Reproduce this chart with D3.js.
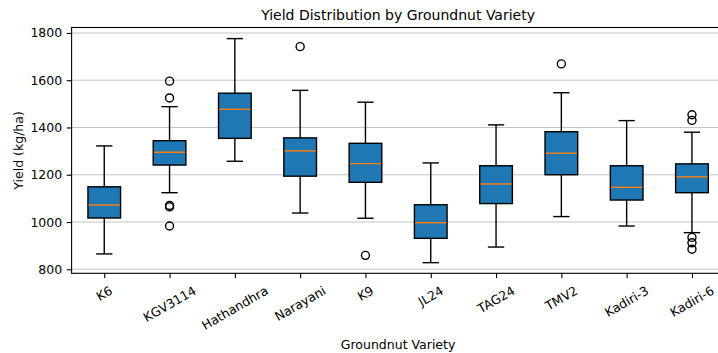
<!DOCTYPE html>
<html>
<head>
<meta charset="utf-8">
<script src="https://cdn.jsdelivr.net/npm/d3@7"></script>
<style>
  body { margin: 0; background: #fff; }
  text { font-family: "DejaVu Sans", sans-serif; fill: #000; }
</style>
</head>
<body>
<div id="chart"></div>
<script>
// groundnut yield per variety, box stats
const varieties = ['K6', 'KGV3114', 'Hathandhra', 'Narayani', 'K9', 'JL24', 'TAG24', 'TMV2', 'Kadiri-3', 'Kadiri-6'];
const whiskerLow  = [865, 1124, 1257, 1038, 1016, 828, 894, 1023, 983, 955];
const q1          = [1017, 1241, 1354, 1194, 1168, 931, 1078, 1200, 1093, 1124];
const medians     = [1072, 1295, 1477, 1301, 1247, 997, 1161, 1291, 1147, 1191];
const q3          = [1149, 1344, 1545, 1356, 1333, 1073, 1238, 1382, 1238, 1246];
const whiskerHigh = [1322, 1488, 1776, 1557, 1507, 1250, 1411, 1547, 1429, 1380];
const outliers = [
  [],
  [1596, 1525, 1070, 1064, 983],
  [],
  [1742],
  [859],
  [],
  [],
  [1669],
  [],
  [1454, 1430, 935, 912, 885]
];
const yTicks = [800, 1000, 1200, 1400, 1600, 1800];

const width = 718, height = 353;
const box = { left: 71.6, right: 724.6, top: 27.5, bottom: 273.3 };

const svg = d3.select('#chart').append('svg')
  .attr('width', width).attr('height', height);

svg.append('rect').attr('width', width).attr('height', height).attr('fill', '#fff');

const x = d3.scaleLinear().domain([0.5, varieties.length + 0.5]).range([box.left, box.right]);
const y = d3.scaleLinear().domain([783, 1823]).range([box.bottom, box.top]);
const boxW = (x(1) - x(0)) * 0.5;

// grid
svg.append('g').selectAll('line').data(yTicks).join('line')
  .attr('x1', box.left).attr('x2', box.right)
  .attr('y1', d => y(d)).attr('y2', d => y(d))
  .attr('stroke', '#b0b0b0').attr('stroke-opacity', 0.75).attr('stroke-width', 1.1);

const stats = varieties.map((name, i) => ({
  name, pos: i + 1,
  lo: whiskerLow[i], q1: q1[i], med: medians[i], q3: q3[i], hi: whiskerHigh[i],
  out: outliers[i]
}));

const g = svg.append('g').selectAll('g').data(stats).join('g');

// whiskers
g.append('line')
  .attr('x1', d => x(d.pos)).attr('x2', d => x(d.pos))
  .attr('y1', d => y(d.lo)).attr('y2', d => y(d.q1))
  .attr('stroke', '#000').attr('stroke-width', 1.4);
g.append('line')
  .attr('x1', d => x(d.pos)).attr('x2', d => x(d.pos))
  .attr('y1', d => y(d.q3)).attr('y2', d => y(d.hi))
  .attr('stroke', '#000').attr('stroke-width', 1.4);

// caps
['lo', 'hi'].forEach(k => {
  g.append('line')
    .attr('x1', d => x(d.pos) - boxW / 4).attr('x2', d => x(d.pos) + boxW / 4)
    .attr('y1', d => y(d[k])).attr('y2', d => y(d[k]))
    .attr('stroke', '#000').attr('stroke-width', 1.4);
});

// boxes
g.append('rect')
  .attr('x', d => x(d.pos) - boxW / 2).attr('width', boxW)
  .attr('y', d => y(d.q3)).attr('height', d => y(d.q1) - y(d.q3))
  .attr('fill', '#1f77b4').attr('stroke', '#000').attr('stroke-width', 1.4);

// medians
g.append('line')
  .attr('x1', d => x(d.pos) - boxW / 2 + 0.7).attr('x2', d => x(d.pos) + boxW / 2 - 0.7)
  .attr('y1', d => y(d.med)).attr('y2', d => y(d.med))
  .attr('stroke', '#ff7f0e').attr('stroke-width', 1.4);

// fliers
g.selectAll('circle').data(d => d.out.map(v => ({ pos: d.pos, v }))).join('circle')
  .attr('cx', d => x(d.pos)).attr('cy', d => y(d.v)).attr('r', 4)
  .attr('fill', 'none').attr('stroke', '#000').attr('stroke-width', 1.4);

// frame
svg.append('rect')
  .attr('x', box.left).attr('y', box.top)
  .attr('width', box.right - box.left).attr('height', box.bottom - box.top)
  .attr('fill', 'none').attr('stroke', '#000').attr('stroke-width', 1.1);

// y axis
const yAxis = svg.append('g')
  .attr('transform', `translate(${box.left},0)`)
  .call(d3.axisLeft(y).tickValues(yTicks).tickSize(4.9).tickPadding(4.5).tickFormat(d3.format('d')));
yAxis.select('.domain').remove();
yAxis.selectAll('line').attr('stroke', '#000').attr('stroke-width', 1.1);
yAxis.selectAll('text').attr('font-size', 12.5).attr('font-family', 'DejaVu Sans').attr('fill', '#000');

// x axis
const xAxis = svg.append('g')
  .attr('transform', `translate(0,${box.bottom})`)
  .call(d3.axisBottom(x).tickValues(stats.map(d => d.pos)).tickSize(4.9).tickFormat(''));
xAxis.select('.domain').remove();
xAxis.selectAll('line').attr('stroke', '#000').attr('stroke-width', 1.1);

const fs = 12.5, ang = 30 * Math.PI / 180;
const labelTop = box.bottom + 9.7;
const xl = svg.append('g');
stats.forEach(d => {
  const t = xl.append('text')
    .attr('font-size', fs).attr('text-anchor', 'middle')
    .attr('dominant-baseline', 'central')
    .text(d.name);
  const w = t.node().getComputedTextLength();
  const h = fs * 1.17;
  const bh = w * Math.sin(ang) + h * Math.cos(ang);
  t.attr('transform', `translate(${x(d.pos)},${labelTop + bh / 2}) rotate(-30)`);
});

// labels
svg.append('text')
  .attr('x', (box.left + box.right) / 2).attr('y', 19.5)
  .attr('text-anchor', 'middle').attr('font-size', 14)
  .text('Yield Distribution by Groundnut Variety');

svg.append('text')
  .attr('x', (box.left + box.right) / 2).attr('y', 348.5)
  .attr('text-anchor', 'middle').attr('font-size', 12.5)
  .text('Groundnut Variety');

svg.append('text')
  .attr('transform', `translate(22.5,${(box.top + box.bottom) / 2}) rotate(-90)`)
  .attr('text-anchor', 'middle').attr('font-size', 12.5)
  .text('Yield (kg/ha)');
</script>
</body>
</html>
